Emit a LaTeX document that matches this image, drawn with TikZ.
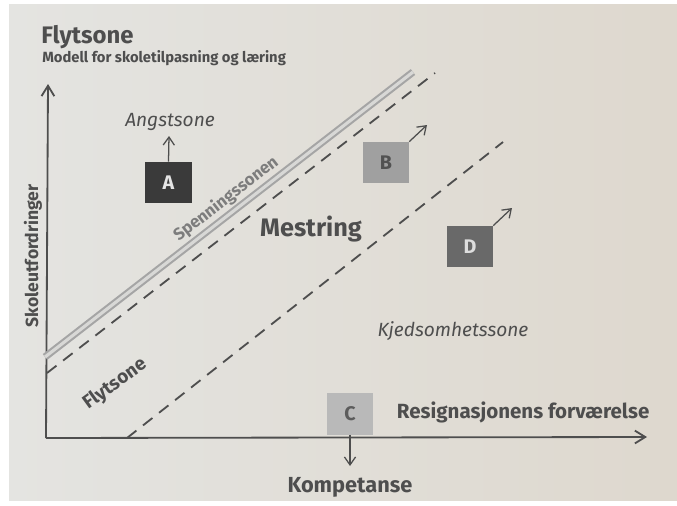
\documentclass[tikz,border=0pt]{standalone}
\usepackage{fontspec}
\setmainfont{Fira Sans}
\usepackage{xcolor}
\usetikzlibrary{arrows.meta,positioning}
\definecolor{pagegray}{RGB}{228,228,225}
\definecolor{pagebeige}{RGB}{222,216,206}
\definecolor{inkgray}{RGB}{78,78,78}
\definecolor{softgray}{RGB}{125,125,125}
\definecolor{railout}{RGB}{165,165,165}
\definecolor{railin}{RGB}{216,216,214}

\begin{document}
\begin{tikzpicture}[x=0.025cm, y=-0.025cm,
    zonebox/.style={rectangle, minimum width=1.15cm, minimum height=1.03cm,
        inner sep=0pt, font=\fontsize{14}{14}\selectfont\bfseries},
    arr/.style={-{Straight Barb[length=2mm,width=2.8mm]}, line width=0.9pt, inkgray},
    axis/.style={-{Straight Barb[length=2.6mm,width=3.2mm]}, line width=1.3pt, inkgray},
    dashline/.style={dash pattern=on 8.5pt off 6pt, line width=1.3pt, inkgray},
    rail/.style={draw=railout, double=railin, double distance=2.2pt, line width=1.5pt},
    zonetext/.style={font=\fontsize{13.6}{13.6}\selectfont\itshape, inkgray}
]
    % page
    \useasboundingbox (0,0) rectangle (677,506);
    \fill[white] (0,0) rectangle (677,506);
    \shade[left color=pagegray, right color=pagebeige] (9,4) rectangle (677,500);

    % heading
    \node[anchor=base west, inner sep=0pt, inkgray,
        font=\fontsize{17}{17}\selectfont\bfseries] (title) at (41,44) {Flytsone};
    \node[anchor=base west, inner sep=0pt, inkgray,
        font=\fontsize{10.5}{10.5}\selectfont\bfseries] (subtitle) at (42,62)
        {Modell for skoletilpasning og læring};

    % axes
    \coordinate (origin) at (46,438);
    \coordinate (ytop) at (48,84);
    \coordinate (xend) at (647,437);
    \draw[axis] (origin) -- (ytop);
    \draw[axis] (origin) -- (xend);
    \node[rotate=90, inkgray, font=\fontsize{12.5}{12.5}\selectfont\bfseries] (yaxis) at (33,256) {Skoleutfordringer};

    % zone borders
    \coordinate (railA) at (45,357);
    \coordinate (railB) at (413,72);
    \coordinate (dashA) at (47,373);
    \coordinate (dashB) at (435,73);
    \coordinate (dashC) at (127,438);
    \coordinate (dashD) at (503,142);
    \draw[rail] (railA) -- (railB);
    \draw[dashline] (dashA) -- (dashB);
    \draw[dashline] (dashC) -- (dashD);

    % zone names
    \node[zonetext] (angst) at (170,122) {Angstsone};
    \node[inkgray, font=\fontsize{18}{18}\selectfont\bfseries] (mestring) at (311,229) {Mestring};
    \node[zonetext] (kjed) at (453,331) {Kjedsomhetssone};
    \node[rotate=37.7, softgray, font=\fontsize{12}{12}\selectfont\bfseries] (spenning) at (226,199) {Spenningssonen};
    \node[rotate=36, inkgray, font=\fontsize{13.5}{13.5}\selectfont\bfseries] (flyt) at (115,384) {Flytsone};
    \node[anchor=west, inkgray, font=\fontsize{14.6}{14.6}\selectfont\bfseries] (resign) at (392,412) {Resignasjonens forværelse};
    \node[inkgray, font=\fontsize{15.5}{15.5}\selectfont\bfseries] (kompetanse) at (350,487) {Kompetanse};

    % pupils
    \node[zonebox, fill={rgb,255:red,58;green,58;blue,58}, text={rgb,255:red,228;green,228;blue,228}] (A) at (168.5,182.5) {A};
    \node[zonebox, fill={rgb,255:red,160;green,160;blue,160}, text={rgb,255:red,82;green,82;blue,82}] (B) at (386,162.5) {B};
    \node[zonebox, fill={rgb,255:red,185;green,185;blue,185}, text={rgb,255:red,92;green,92;blue,92}] (C) at (350,414) {C};
    \node[zonebox, fill={rgb,255:red,105;green,105;blue,105}, text={rgb,255:red,222;green,222;blue,222}] (D) at (470,246.5) {D};

    \coordinate (Aup) at (169,136);
    \coordinate (Bup) at (427,125);
    \coordinate (Cdown) at (350,466);
    \coordinate (Dup) at (512,208);
    \draw[arr] (A.north) -- (Aup);
    \draw[arr] (B.north east) -- (Bup);
    \draw[arr] (C.south) -- (Cdown);
    \draw[arr] (D.north east) -- (Dup);
\end{tikzpicture}
\end{document}
